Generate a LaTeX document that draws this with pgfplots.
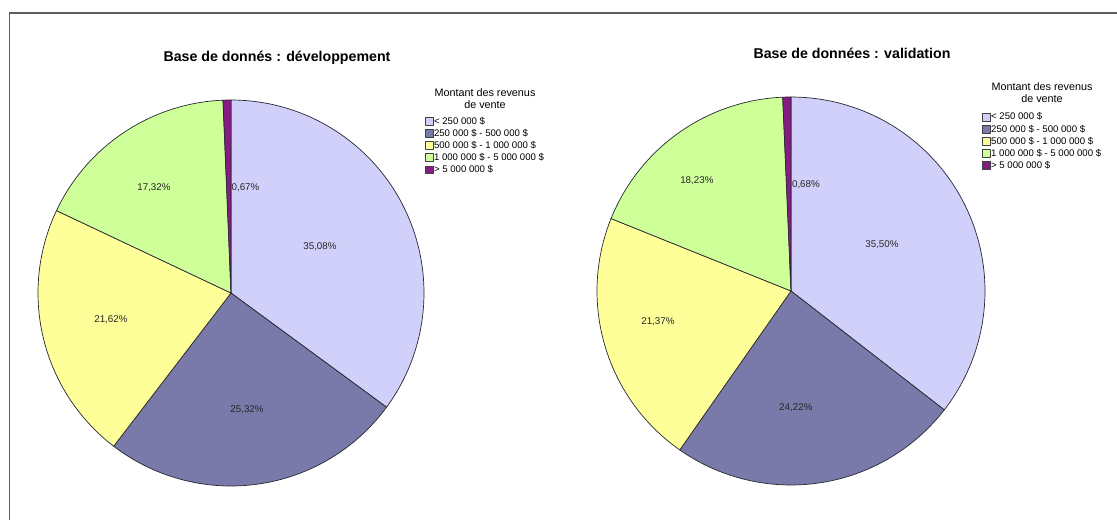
\documentclass[border=0pt]{standalone}
\usepackage{fontspec}
\setmainfont{Liberation Sans}
\usepackage{pgfplots}
\usepackage{pgfplotstable}
\pgfplotsset{compat=1.18}

\definecolor{col0}{RGB}{208,208,250}
\definecolor{col1}{RGB}{122,122,170}
\definecolor{col2}{RGB}{255,255,153}
\definecolor{col3}{RGB}{206,255,153}
\definecolor{col4}{RGB}{132,28,132}
\definecolor{edge}{RGB}{40,40,50}
\definecolor{frame}{RGB}{95,95,95}

% share (%) and label position (in radii)
\pgfplotstableread{
pct   lx     ly
35.08 0.461  0.238
25.32 0.083 -0.606
21.62 -0.622 -0.140
17.32 -0.399  0.544
0.67  0.075  0.544
}\devtable
\pgfplotstableread{
pct   lx     ly
35.50 0.469  0.237
24.22 0.025 -0.600
21.37 -0.686 -0.160
18.23 -0.485  0.567
0.68  0.077  0.546
}\valtable

\newcommand\lblfont{\fontsize{9.8}{11}\selectfont}
\newcommand\piechart[1]{%
  \def\cum{0}%
  \pgfplotsforeachungrouped \i in {0,...,4}{%
    \pgfplotstablegetelem{\i}{pct}\of#1%
    \let\pval\pgfplotsretval
    \pgfplotstablegetelem{\i}{lx}\of#1%
    \let\lx\pgfplotsretval
    \pgfplotstablegetelem{\i}{ly}\of#1%
    \let\ly\pgfplotsretval
    \pgfmathsetmacro\st{3.6*\cum}%
    \pgfmathsetmacro\cum{\cum+\pval}%
    \pgfmathsetmacro\en{3.6*\cum}%
    \edef\temp{\noexpand\addplot[fill=col\i, draw=edge, line width=0.7pt, line join=round, domain=\st:\en, samples=90] ({sin(x)},{cos(x)}) -- (0,0) -- cycle;}%
    \temp
    \edef\temp{\noexpand\node[font=\noexpand\lblfont, text=black!85, inner sep=0pt] at (axis cs:\lx,\ly) {\noexpand\pgfmathprintnumber[fixed,fixed zerofill,precision=2,use comma,assume math mode=true]{\pval}\noexpand\%};}%
    \temp
  }%
}

\pgfplotsset{
  piestyle/.style={
    hide axis, clip=false, scale only axis,
    xmin=-1, xmax=1, ymin=-1, ymax=1,
    anchor=center,
    legend entries={{< 250 000 \$},{250 000 \$ - 500 000 \$},{500 000 \$ - 1 000 000 \$},{1 000 000 \$ - 5 000 000 \$},{> 5 000 000 \$}},
    legend cell align=left,
    legend style={draw=none, fill=none, font=\fontsize{9.6}{12}\selectfont, anchor=north west,
      inner sep=0pt, row sep=0pt,
      nodes={text height=8pt, text depth=2.5pt, inner sep=0.8pt}},
    legend image code/.code={\draw[#1, draw=black!75, line width=0.5pt] (0pt,-3.6pt) rectangle (7.6pt,3.9pt);},
  }
}

\begin{document}
\begin{tikzpicture}
\useasboundingbox (0,0) rectangle (1117pt,520pt);
\draw[frame, line width=1.3pt] (9.5pt,0pt) -- (9.5pt,507pt) -- (1117pt,507pt);

\node[font=\fontsize{14.2}{16}\selectfont\bfseries] at (277pt,462pt) {Base de donnés : développement};
\node[font=\fontsize{14.2}{16}\selectfont\bfseries] at (852pt,467pt) {Base de données : validation};

\begin{axis}[piestyle, width=386pt, height=386pt, at={(231pt,227pt)},
  legend style={at={(axis description cs:1.0025,0.961)}}]
  \piechart{\devtable}
  \node[align=center, font=\fontsize{10.8}{12}\selectfont] at (axis cs:1.316,1.005) {Montant des revenus\\de vente};
\end{axis}

\begin{axis}[piestyle, width=388pt, height=388pt, at={(791pt,229pt)},
  legend style={at={(axis description cs:0.9925,0.964)}}]
  \piechart{\valtable}
  \node[align=center, font=\fontsize{10.8}{12}\selectfont] at (axis cs:1.294,1.02) {Montant des revenus\\de vente};
\end{axis}
\end{tikzpicture}
\end{document}
